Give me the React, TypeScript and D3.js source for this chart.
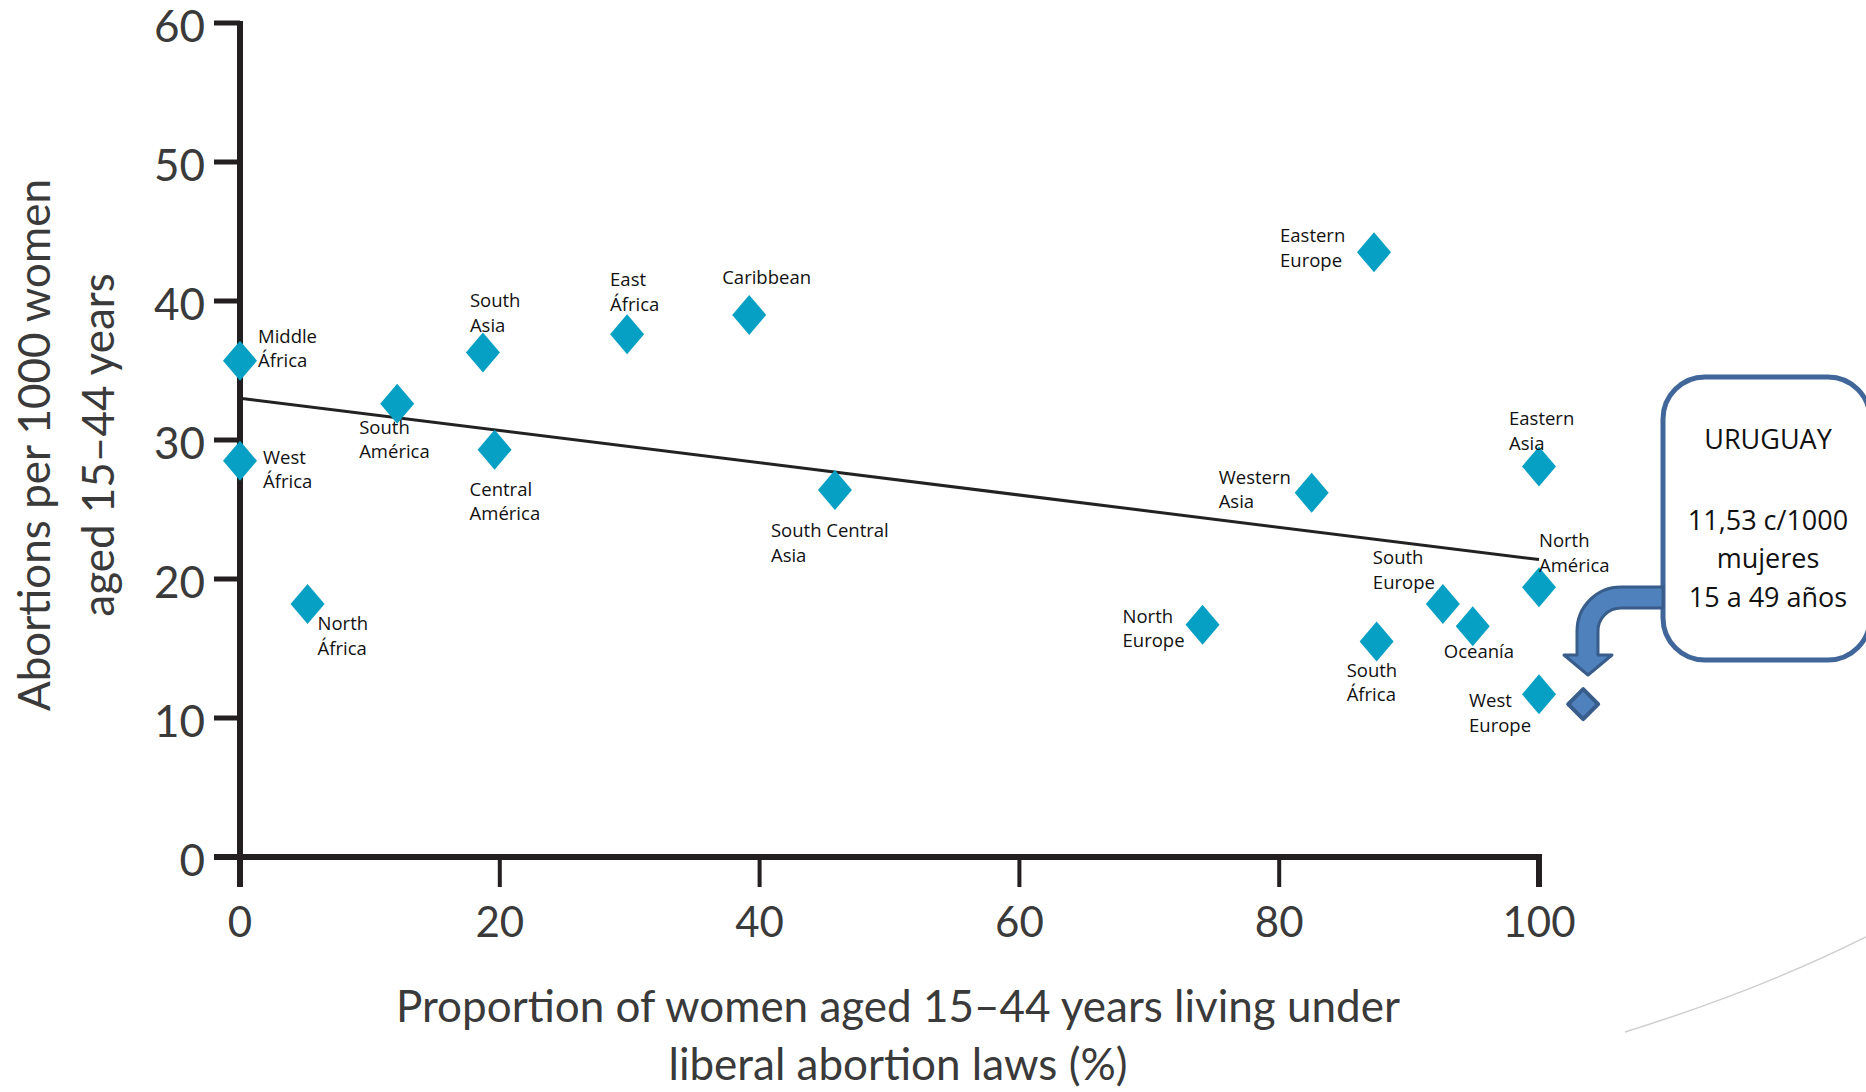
import React from 'react';
import * as d3 from 'd3';

const regions = [
  'Middle\nÁfrica', 'West\nÁfrica', 'North\nÁfrica', 'South\nAmérica', 'South\nAsia',
  'Central\nAmérica', 'East\nÁfrica', 'Caribbean', 'South Central\nAsia', 'North\nEurope',
  'Western\nAsia', 'Eastern\nEurope', 'South\nÁfrica', 'South\nEurope', 'Oceanía',
  'Eastern\nAsia', 'North\nAmérica', 'West\nEurope',
];
const liberalPct = [0, 0, 5.2, 12.1, 18.7, 19.6, 29.8, 39.2, 45.8, 74.1, 82.5, 87.3, 87.5, 92.6, 94.9, 100, 100, 100];
const abortionRate = [35.7, 28.5, 18.2, 32.6, 36.3, 29.3, 37.6, 39.0, 26.4, 16.7, 26.2, 43.5, 15.5, 18.2, 16.6, 28.1, 19.4, 11.7];

const uruguayPct = [103.4];
const uruguayRate = [11.0];
const uruguayText = ['URUGUAY', '', '11,53 c/1000', 'mujeres', '15 a 49 años'];

const trendPct = [0, 100];
const trendRate = [33.0, 21.4];

const xTicks = [0, 20, 40, 60, 80, 100];
const yTicks = [0, 10, 20, 30, 40, 50, 60];
const yTitle = ['Abortions per 1000 women', 'aged 15–44 years'];
const xTitle = ['Proportion of women aged 15–44 years living under', 'liberal abortion laws (%)'];

// label placement (pixel offsets from each point)
const labelOffsets: [number, number][] = [
  [18, -18], [23, 3], [10, 26], [-38, 30], [-13, -45], [-25, 46], [-17, -48], [-27, -31],
  [-64, 47], [-80, -2], [-93, -9], [-94, -10], [-30, 35], [-70, -40], [-29, 32], [-30, -41],
  [0, -40], [-70, 13],
];

export default function App() {
  const W = 1866, H = 1092;
  const x = d3.scaleLinear().domain([0, 100]).range([240, 1539]);
  const y = d3.scaleLinear().domain([0, 60]).range([857, 23]);
  const axisColor = '#231f20';
  const tickColor = '#3a3a3a';
  const teal = '#05a0c3';
  const diamond = 'M0,-20L17,0L0,20L-17,0Z';
  const uDiamond = 'M0,-15L15,0L0,15L-15,0Z';
  const line = d3.line<number>().x((d, i) => x(trendPct[i])).y((d) => y(d));

  const arrow = 'M1663,587 L1621,587 A44,44 0 0 0 1577,631 L1577,655 L1564,655 L1588,675 L1612,655 L1598,655 L1598,631 A23,23 0 0 1 1621,608 L1663,608 Z';

  return (
    <svg width={W} height={H} style={{ position: 'absolute', left: 0, top: 0, background: '#fff' }}
      fontFamily="Lato, 'Open Sans', sans-serif">
      {/* faint arc */}
      <path d="M1625,1032 Q1760,990 1866,937" fill="none" stroke="#cfcfcf" strokeWidth={1.5} />

      {/* y axis */}
      <line x1={x(0)} x2={x(0)} y1={y(60) - 2} y2={887} stroke={axisColor} strokeWidth={6} />
      {yTicks.map((t) => (
        <g key={'y' + t}>
          <line x1={x(0) - 26} x2={x(0)} y1={y(t)} y2={y(t)} stroke={axisColor} strokeWidth={t === 0 ? 6 : 5} />
          <text x={205} y={y(t) + 19} textAnchor="end" fontSize={44} fill={tickColor}>{t}</text>
        </g>
      ))}
      {/* x axis */}
      <line x1={x(0) - 26} x2={x(100) + 3} y1={y(0)} y2={y(0)} stroke={axisColor} strokeWidth={6} />
      {xTicks.map((t) => (
        <g key={'x' + t}>
          <line x1={x(t)} x2={x(t)} y1={y(0)} y2={887} stroke={axisColor} strokeWidth={t === 100 ? 6 : 4} />
          <text x={x(t)} y={937} textAnchor="middle" fontSize={42} fill={tickColor}>{t}</text>
        </g>
      ))}

      {/* axis titles */}
      <g transform="translate(50,445) rotate(-90)">
        <text x={0} y={0} textAnchor="middle" fontSize={44} fill={tickColor}>{yTitle[0]}</text>
        <text x={0} y={64} textAnchor="middle" fontSize={44} fill={tickColor}>{yTitle[1]}</text>
      </g>
      <text x={898} y={1022} textAnchor="middle" fontSize={44} fill={tickColor}>{xTitle[0]}</text>
      <text x={898} y={1080} textAnchor="middle" fontSize={44} fill={tickColor}>{xTitle[1]}</text>

      {/* trend line */}
      <path d={line(trendRate) || ''} fill="none" stroke="#222" strokeWidth={3} />

      {/* points */}
      {regions.map((r, i) => (
        <path key={'p' + i} d={diamond} transform={`translate(${x(liberalPct[i])},${y(abortionRate[i])})`} fill={teal} />
      ))}
      {/* labels */}
      {regions.map((r, i) => {
        const px = x(liberalPct[i]) + labelOffsets[i][0];
        const py = y(abortionRate[i]) + labelOffsets[i][1];
        return (
          <text key={'l' + i} x={px} y={py} fontFamily="'Open Sans', sans-serif" fontSize={18.5} fill="#111">
            {r.split('\n').map((s, j) => (
              <tspan key={j} x={px} dy={j === 0 ? 0 : 24.5}>{s}</tspan>
            ))}
          </text>
        );
      })}

      {/* Uruguay point */}
      <path d={uDiamond} transform={`translate(${x(uruguayPct[0])},${y(uruguayRate[0])})`} fill="#4f81bd" stroke="#385d8a" strokeWidth={4} strokeLinejoin="round" />

      {/* callout */}
      <rect x={1663} y={377} width={207} height={283} rx={42} ry={42} fill="#fff" stroke="#41679a" strokeWidth={5} />
      <path d={arrow} fill="#4f81bd" stroke="#385d8a" strokeWidth={3} strokeLinejoin="round" />
      <g fontFamily="'Open Sans', sans-serif" fontSize={27} fill="#111" textAnchor="middle">
        <text x={1768} y={449}>{uruguayText[0]}</text>
        <text x={1768} y={530}>{uruguayText[2]}</text>
        <text x={1768} y={568}>{uruguayText[3]}</text>
        <text x={1768} y={607}>{uruguayText[4]}</text>
      </g>
    </svg>
  );
}
